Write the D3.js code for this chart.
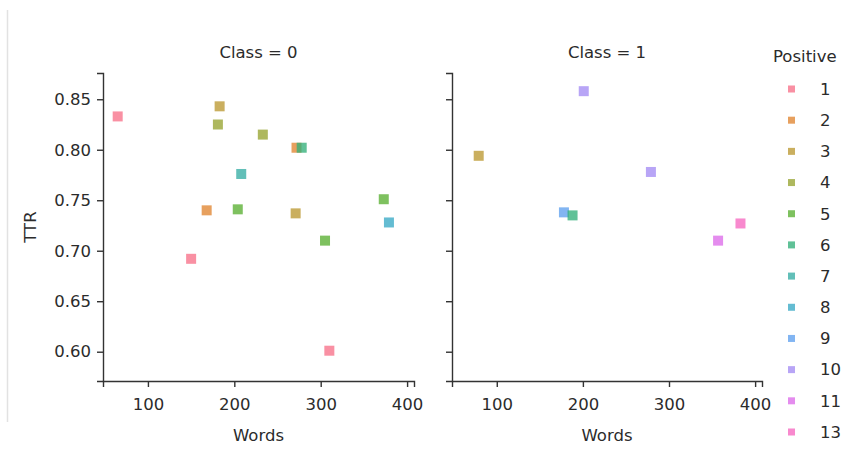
<!DOCTYPE html>
<html>
<head>
<meta charset="utf-8">
<script src="https://cdn.jsdelivr.net/npm/d3@7"></script>
<style>
  body { margin: 0; background: #fff; }
  text { font-family: "DejaVu Sans", sans-serif; fill: #2b2b2b; }
</style>
</head>
<body>
<div id="chart"></div>
<script>
// data
var classes = [0, 1];
var positiveLevels = [1, 2, 3, 4, 5, 6, 7, 8, 9, 10, 11, 13];
var palette = ["#f77189", "#e08531", "#bb9832", "#97a431", "#5ab032", "#33b07a",
               "#36ada4", "#38a9c5", "#5fa0ee", "#a48cf4", "#dd6be9", "#f668c0"];
var xTicks = [100, 200, 300, 400];
var yTicks = [0.60, 0.65, 0.70, 0.75, 0.80, 0.85];

var class0Words    = [65, 183, 181, 233, 272, 278, 208, 168, 204, 271, 373, 379, 305, 150, 310];
var class0TTR      = [0.833, 0.843, 0.825, 0.815, 0.802, 0.802, 0.776, 0.740, 0.741, 0.737, 0.751, 0.728, 0.710, 0.692, 0.601];
var class0Positive = [1, 3, 4, 4, 2, 6, 7, 2, 5, 3, 5, 8, 5, 1, 1];

var class1Words    = [201, 79, 279, 178, 188, 357, 383];
var class1TTR      = [0.858, 0.794, 0.778, 0.738, 0.735, 0.710, 0.727];
var class1Positive = [10, 3, 10, 9, 6, 11, 13];

var width = 846, height = 452;
var svg = d3.select("#chart").append("svg")
    .attr("width", width)
    .attr("height", height);

// faint frame line on the left of the screenshot
svg.append("line")
    .attr("x1", 7.5).attr("x2", 7.5).attr("y1", 10).attr("y2", 422)
    .attr("stroke", "#e2e2e2").attr("stroke-width", 1.5);

var color = d3.scaleOrdinal().domain(positiveLevels).range(palette);

var y = d3.scaleLinear().domain([0.571, 0.876]).range([381, 73]);

var panels = [
    { left: 103, right: 414, words: class0Words, ttr: class0TTR, pos: class0Positive, labels: true },
    { left: 452, right: 762, words: class1Words, ttr: class1TTR, pos: class1Positive, labels: false }
];

panels.forEach(function(p, i) {
    var x = d3.scaleLinear().domain([48, 408]).range([p.left, p.right]);
    var g = svg.append("g");

    // x axis
    var xa = g.append("g")
        .attr("transform", "translate(0,381)")
        .call(d3.axisBottom(x).tickValues(xTicks).tickSize(6).tickPadding(7));
    // y axis
    var ya = g.append("g")
        .attr("transform", "translate(" + p.left + ",0)")
        .call(d3.axisLeft(y).tickValues(yTicks).tickSize(6).tickPadding(6)
            .tickFormat(p.labels ? d3.format(".2f") : function() { return ""; }));

    [xa, ya].forEach(function(a) {
        a.select(".domain").attr("stroke", "#333").attr("stroke-width", 1.4);
        a.selectAll(".tick line").attr("stroke", "#333").attr("stroke-width", 1.4);
        a.selectAll(".tick text")
            .style("font-size", "16.5px")
            .attr("fill", "#2b2b2b");
    });
    xa.selectAll(".tick text").attr("dy", "0.95em");

    // facet title
    g.append("text")
        .attr("x", (p.left + p.right) / 2)
        .attr("y", 58)
        .attr("text-anchor", "middle")
        .style("font-size", "16.5px")
        .text("Class = " + classes[i]);

    // x label
    g.append("text")
        .attr("x", (p.left + p.right) / 2)
        .attr("y", 441)
        .attr("text-anchor", "middle")
        .style("font-size", "16.5px")
        .text("Words");

    // points
    var pts = p.words.map(function(w, k) { return { w: w, t: p.ttr[k], c: p.pos[k] }; });
    var s = 10;
    g.selectAll("rect.pt")
        .data(pts)
        .enter()
        .append("rect")
        .attr("class", "pt")
        .attr("x", function(d) { return x(d.w) - s / 2; })
        .attr("y", function(d) { return y(d.t) - s / 2; })
        .attr("width", s)
        .attr("height", s)
        .attr("fill", function(d) { return color(d.c); })
        .style("opacity", 0.78);
});

// y label
svg.append("text")
    .attr("transform", "translate(36,227) rotate(-90)")
    .attr("text-anchor", "middle")
    .style("font-size", "16.5px")
    .text("TTR");

// legend
var legend = svg.append("g");
legend.append("text")
    .attr("x", 773)
    .attr("y", 62)
    .style("font-size", "16.5px")
    .text("Positive");

var rowY = d3.scalePoint().domain(positiveLevels).range([89, 432]);

var rows = legend.selectAll("g.row")
    .data(positiveLevels)
    .enter()
    .append("g")
    .attr("class", "row")
    .attr("transform", function(d) { return "translate(0," + rowY(d) + ")"; });

rows.append("rect")
    .attr("x", 788).attr("y", -3.5)
    .attr("width", 7).attr("height", 7)
    .attr("fill", function(d) { return color(d); })
    .style("opacity", 0.78);

rows.append("text")
    .attr("x", 820)
    .attr("y", 0)
    .attr("dy", "0.35em")
    .style("font-size", "16.5px")
    .text(function(d) { return d; });
</script>
</body>
</html>
